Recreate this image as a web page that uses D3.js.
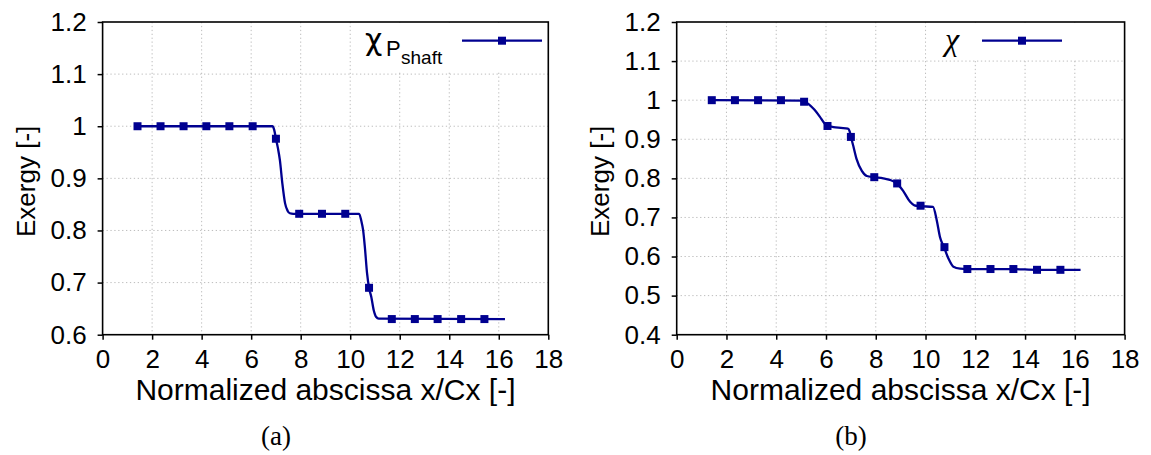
<!DOCTYPE html>
<html><head><meta charset="utf-8">
<script src="https://cdn.jsdelivr.net/npm/d3@7"></script>
<style>body{margin:0;background:#fff}</style>
</head><body>
<svg id="c" width="1151" height="455"></svg>
<script>
// ---- data ----
const markerX = [1.41,2.34,3.27,4.19,5.12,6.06,7.0,7.94,8.86,9.8,10.76,11.68,12.61,13.53,14.48,15.42];
const markerA = [1,1,1,1,1,1,0.976,0.832,0.832,0.832,0.69,0.63,0.63,0.63,0.63,0.63];
const markerB = [1,1,1,1,0.996,0.934,0.906,0.803,0.787,0.73,0.624,0.568,0.568,0.568,0.566,0.566];

const curveAX = [1.41,6.86,6.93,7.0,7.08,7.16,7.26,7.37,7.47,7.56,7.7,10.36,10.45,10.52,10.59,10.68,10.76,10.85,10.95,11.05,11.15,16.25];
const curveAY = [1.0,1.0,0.993,0.976,0.958,0.935,0.89,0.852,0.838,0.833,0.832,0.832,0.818,0.801,0.769,0.718,0.69,0.673,0.647,0.634,0.631,0.63];

const curveBX = [1.41,5.0,5.12,5.3,5.5,5.75,5.95,6.07,6.3,6.6,6.88,6.95,7.0,7.1,7.23,7.44,7.64,7.93,8.3,8.57,8.84,9.1,9.38,9.55,9.78,10.3,10.45,10.58,10.74,10.92,11.12,11.39,11.66,13.5,14.47,16.23];
const curveBY = [1.0,0.999,0.997,0.99,0.978,0.958,0.94,0.935,0.931,0.929,0.927,0.92,0.907,0.882,0.849,0.819,0.806,0.803,0.8,0.796,0.787,0.768,0.74,0.731,0.729,0.727,0.693,0.65,0.624,0.595,0.574,0.569,0.568,0.568,0.566,0.566];

const xTicks = [0,2,4,6,8,10,12,14,16,18];
const xTickLabels = ["0","2","4","6","8","10","12","14","16","18"];
const yTicksA = [0.6,0.7,0.8,0.9,1.0,1.1,1.2];
const yTickLabelsA = ["0.6","0.7","0.8","0.9","1","1.1","1.2"];
const yTicksB = [0.4,0.5,0.6,0.7,0.8,0.9,1.0,1.1,1.2];
const yTickLabelsB = ["0.4","0.5","0.6","0.7","0.8","0.9","1","1.1","1.2"];

const xTitle = "Normalized abscissa x/Cx [-]";
const yTitle = "Exergy [-]";
const captions = ["(a)","(b)"];

// ---- drawing ----
const svg = d3.select("#c");
const COLOR = "#000090";
const SANS = "'Liberation Sans', Arial, Helvetica, sans-serif";

const panels = [
  {left:102.6, right:548.3, top:22, bottom:334.7, yDom:[0.6,1.2], yT:yTicksA, yL:yTickLabelsA,
   cx:curveAX, cy:curveAY, my:markerA, cap:captions[0], capX:276,
   key:{x0:356,x1:547,y0:23,y1:71, lx0:462, lx1:542, ly:40.7}},
  {left:676.7, right:1124.6, top:22, bottom:334.7, yDom:[0.4,1.2], yT:yTicksB, yL:yTickLabelsB,
   cx:curveBX, cy:curveBY, my:markerB, cap:captions[1], capX:851,
   key:{x0:935,x1:1080,y0:23,y1:60, lx0:982, lx1:1062, ly:40.7}}
];

panels.forEach((p, i) => {
  const x = d3.scaleLinear().domain([0,18]).range([p.left, p.right]);
  const y = d3.scaleLinear().domain(p.yDom).range([p.bottom, p.top]);
  const g = svg.append("g");

  // grid
  g.append("g").selectAll("line.vx").data(xTicks.slice(1,-1)).join("line")
    .attr("x1", d => x(d)).attr("x2", d => x(d)).attr("y1", p.top).attr("y2", p.bottom)
    .attr("stroke", "#bdbdbd").attr("stroke-width", 1).attr("stroke-dasharray", "1.3,2.6");
  g.append("g").selectAll("line.hy").data(p.yT.slice(1,-1)).join("line")
    .attr("y1", d => y(d)).attr("y2", d => y(d)).attr("x1", p.left).attr("x2", p.right)
    .attr("stroke", "#bdbdbd").attr("stroke-width", 1).attr("stroke-dasharray", "1.3,2.6");

  // key background
  g.append("rect").attr("x", p.key.x0).attr("y", p.key.y0)
    .attr("width", p.key.x1 - p.key.x0).attr("height", p.key.y1 - p.key.y0).attr("fill", "#fff");

  // axes via d3
  const xAxis = d3.axisBottom(x).tickValues(xTicks).tickFormat((d, k) => xTickLabels[k])
    .tickSizeInner(5).tickSizeOuter(0).tickPadding(10);
  const gx = g.append("g").attr("transform", `translate(0,${p.bottom})`).call(xAxis);
  const yAxis = d3.axisLeft(y).tickValues(p.yT).tickFormat((d, k) => p.yL[k])
    .tickSizeInner(5).tickSizeOuter(0).tickPadding(11);
  const gy = g.append("g").attr("transform", `translate(${p.left},0)`).call(yAxis);
  [gx, gy].forEach(a => {
    a.select(".domain").remove();
    a.selectAll(".tick line").attr("stroke", "#000").attr("stroke-width", 1.5);
    a.selectAll("text").attr("font-family", SANS).attr("font-size", 26).attr("fill", "#000");
  });

  // frame
  g.append("rect").attr("x", p.left).attr("y", p.top)
    .attr("width", p.right - p.left).attr("height", p.bottom - p.top)
    .attr("fill", "none").attr("stroke", "#000").attr("stroke-width", 1.6);

  // titles
  g.append("text").attr("x", (p.left + p.right) / 2).attr("y", 400)
    .attr("text-anchor", "middle").attr("font-family", SANS).attr("font-size", 30).text(xTitle);
  g.append("text").attr("transform", `translate(${p.left - 68},${(p.top + p.bottom) / 2 + 3}) rotate(-90)`)
    .attr("text-anchor", "middle").attr("font-family", SANS).attr("font-size", 26).text(yTitle);
  g.append("text").attr("x", p.capX).attr("y", 445).attr("text-anchor", "middle")
    .attr("font-family", "'Liberation Serif', 'DejaVu Serif', serif").attr("font-size", 27).text(p.cap);

  // curve
  const pts = p.cx.map((v, k) => [v, p.cy[k]]);
  g.append("path").datum(pts)
    .attr("d", d3.line().x(d => x(d[0])).y(d => y(d[1])).curve(d3.curveMonotoneX))
    .attr("fill", "none").attr("stroke", COLOR).attr("stroke-width", 2.3);

  // markers
  const ms = 8;
  g.append("g").selectAll("rect").data(markerX.map((v, k) => [v, p.my[k]])).join("rect")
    .attr("x", d => x(d[0]) - ms / 2).attr("y", d => y(d[1]) - ms / 2)
    .attr("width", ms).attr("height", ms).attr("fill", COLOR);

  // legend
  g.append("line").attr("x1", p.key.lx0).attr("x2", p.key.lx1).attr("y1", p.key.ly).attr("y2", p.key.ly)
    .attr("stroke", COLOR).attr("stroke-width", 2.3);
  g.append("rect").attr("x", (p.key.lx0 + p.key.lx1) / 2 - ms / 2).attr("y", p.key.ly - ms / 2)
    .attr("width", ms).attr("height", ms).attr("fill", COLOR);

  if (i === 0) {
    const t = g.append("text").attr("font-family", SANS);
    t.append("tspan").attr("x", 365).attr("y", 50).attr("font-size", 30)
      .attr("font-family", "'DejaVu Sans', sans-serif").text("χ");
    t.append("tspan").attr("x", 386).attr("y", 56).attr("font-size", 22).text("P");
    t.append("tspan").attr("x", 401).attr("y", 64).attr("font-size", 19).text("shaft");
  } else {
    g.append("text").attr("x", 945).attr("y", 50)
      .attr("font-family", "'Liberation Serif', 'DejaVu Serif', serif").attr("font-style", "italic")
      .attr("font-size", 32).text("χ");
  }
});
</script>
</body></html>
